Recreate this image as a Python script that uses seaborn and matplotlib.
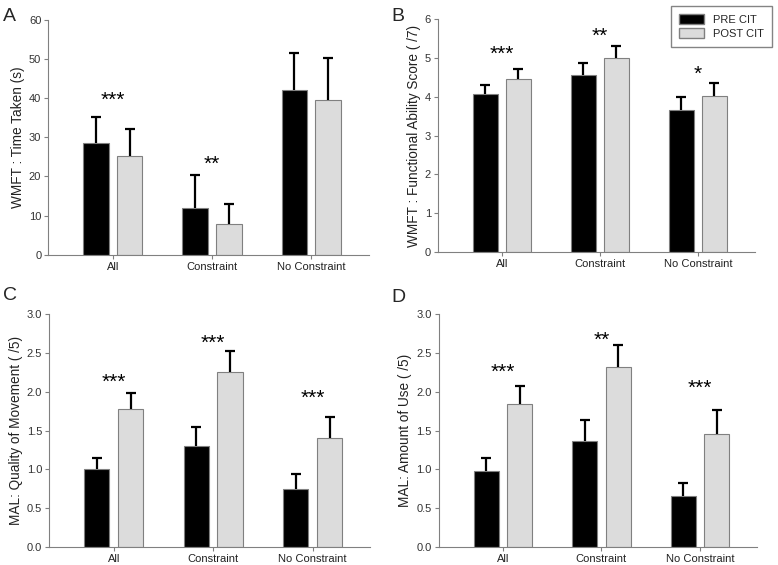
import pandas as pd
import matplotlib.pyplot as plt
import seaborn as sns
from matplotlib.patches import Patch

# === 1. Data ===
groups = ["All", "Constraint", "No Constraint"]
phases = ["PRE CIT", "POST CIT"]

a_pre = [28.5, 12.0, 42.2]
a_pre_err = [6.8, 8.3, 9.3]
a_post = [25.3, 7.8, 39.6]
a_post_err = [6.7, 5.2, 10.6]

b_pre = [4.07, 4.56, 3.67]
b_pre_err = [0.24, 0.30, 0.32]
b_post = [4.45, 5.00, 4.02]
b_post_err = [0.26, 0.30, 0.33]

c_pre = [1.00, 1.30, 0.75]
c_pre_err = [0.15, 0.24, 0.19]
c_post = [1.78, 2.26, 1.41]
c_post_err = [0.21, 0.26, 0.27]

d_pre = [0.98, 1.37, 0.66]
d_pre_err = [0.16, 0.27, 0.17]
d_post = [1.84, 2.32, 1.46]
d_post_err = [0.23, 0.28, 0.30]

# significance markers: (group index, y, text)
a_stars = [(0, 39.5, "***"), (1, 23.2, "**")]
b_stars = [(0, 5.10, "***"), (1, 5.56, "**"), (2, 4.58, "*")]
c_stars = [(0, 2.12, "***"), (1, 2.62, "***"), (2, 1.91, "***")]
d_stars = [(0, 2.25, "***"), (1, 2.66, "**"), (2, 2.04, "***")]

panels = [
    ("A", "WMFT : Time Taken (s)", a_pre, a_pre_err, a_post, a_post_err, a_stars, (0, 60), range(0, 61, 10), "{:.0f}"),
    ("B", "WMFT : Functional Ability Score ( /7)", b_pre, b_pre_err, b_post, b_post_err, b_stars, (0, 6), range(0, 7), "{:.0f}"),
    ("C", "MAL: Quality of Movement ( /5)", c_pre, c_pre_err, c_post, c_post_err, c_stars, (0, 3), [0, 0.5, 1, 1.5, 2, 2.5, 3], "{:.1f}"),
    ("D", "MAL: Amount of Use ( /5)", d_pre, d_pre_err, d_post, d_post_err, d_stars, (0, 3), [0, 0.5, 1, 1.5, 2, 2.5, 3], "{:.1f}"),
]

axes_rects = [
    [0.062, 0.549, 0.412, 0.416],
    [0.563, 0.554, 0.407, 0.412],
    [0.063, 0.032, 0.413, 0.412],
    [0.564, 0.032, 0.409, 0.412],
]
letter_pos = [(0.004, 0.985), (0.503, 0.985), (0.004, 0.492), (0.503, 0.488)]

PRE_COLOR = "black"
POST_COLOR = "#dcdcdc"
SPINE = "#808080"

sns.set_style("white")
plt.rcParams["font.family"] = ["Liberation Sans", "DejaVu Sans"]

fig = plt.figure(figsize=(7.78, 5.65), dpi=100)

for i, (letter, ylabel, pre, pre_err, post, post_err, stars, ylim, yticks, fmt) in enumerate(panels):
    ax = fig.add_axes(axes_rects[i])
    df = pd.DataFrame({
        "group": groups * 2,
        "phase": [phases[0]] * 3 + [phases[1]] * 3,
        "value": pre + post,
    })
    sns.barplot(data=df, x="group", y="value", hue="phase", order=groups, hue_order=phases,
                palette=[PRE_COLOR, POST_COLOR], width=0.68, gap=0.25, errorbar=None,
                edgecolor=SPINE, linewidth=0.8, ax=ax, legend=False)

    # one-sided error bars from the bar tops (upper cap only)
    for cont, errs in zip(ax.containers, [pre_err, post_err]):
        for bar, e in zip(cont, errs):
            xc = bar.get_x() + bar.get_width() / 2
            h = bar.get_height()
            ax.vlines(xc, h, h + e, color="black", linewidth=1.6, zorder=3)
            ax.plot([xc], [h + e], marker="_", markersize=7, markeredgewidth=1.6,
                    color="black", zorder=3)

    for gi, y, txt in stars:
        ax.text(gi, y, txt, ha="center", va="center", fontsize=15, color="black")

    ax.set_xlim(-0.65, 2.58)
    ax.set_ylim(*ylim)
    ax.set_yticks(list(yticks))
    ax.set_yticklabels([fmt.format(t) for t in yticks], fontsize=8, color="#333333")
    ax.set_xticks(range(3))
    ax.set_xticklabels(groups, fontsize=8, color="#222222")
    ax.set_xlabel("")
    ax.set_ylabel(ylabel, fontsize=9.8, color="#222222", labelpad=3)
    sns.despine(ax=ax)
    for s in ["left", "bottom"]:
        ax.spines[s].set_color(SPINE)
        ax.spines[s].set_linewidth(0.8)
    ax.tick_params(axis="both", which="major", bottom=True, left=True, direction="out",
                   length=3, width=0.8, color=SPINE, pad=2)

    fig.text(letter_pos[i][0], letter_pos[i][1], letter, fontsize=14, ha="left", va="top")

# legend in panel B corner
handles = [Patch(facecolor=PRE_COLOR, edgecolor=SPINE, label=phases[0]),
           Patch(facecolor=POST_COLOR, edgecolor=SPINE, label=phases[1])]
fig.legend(handles=handles, loc="upper right", bbox_to_anchor=(0.999, 0.999),
           fontsize=8, frameon=True, fancybox=False, edgecolor="#666666",
           handlelength=2.3, handleheight=1.0, borderpad=0.7, labelspacing=0.3)

fig.savefig("out.png", dpi=100)
plt.close()
